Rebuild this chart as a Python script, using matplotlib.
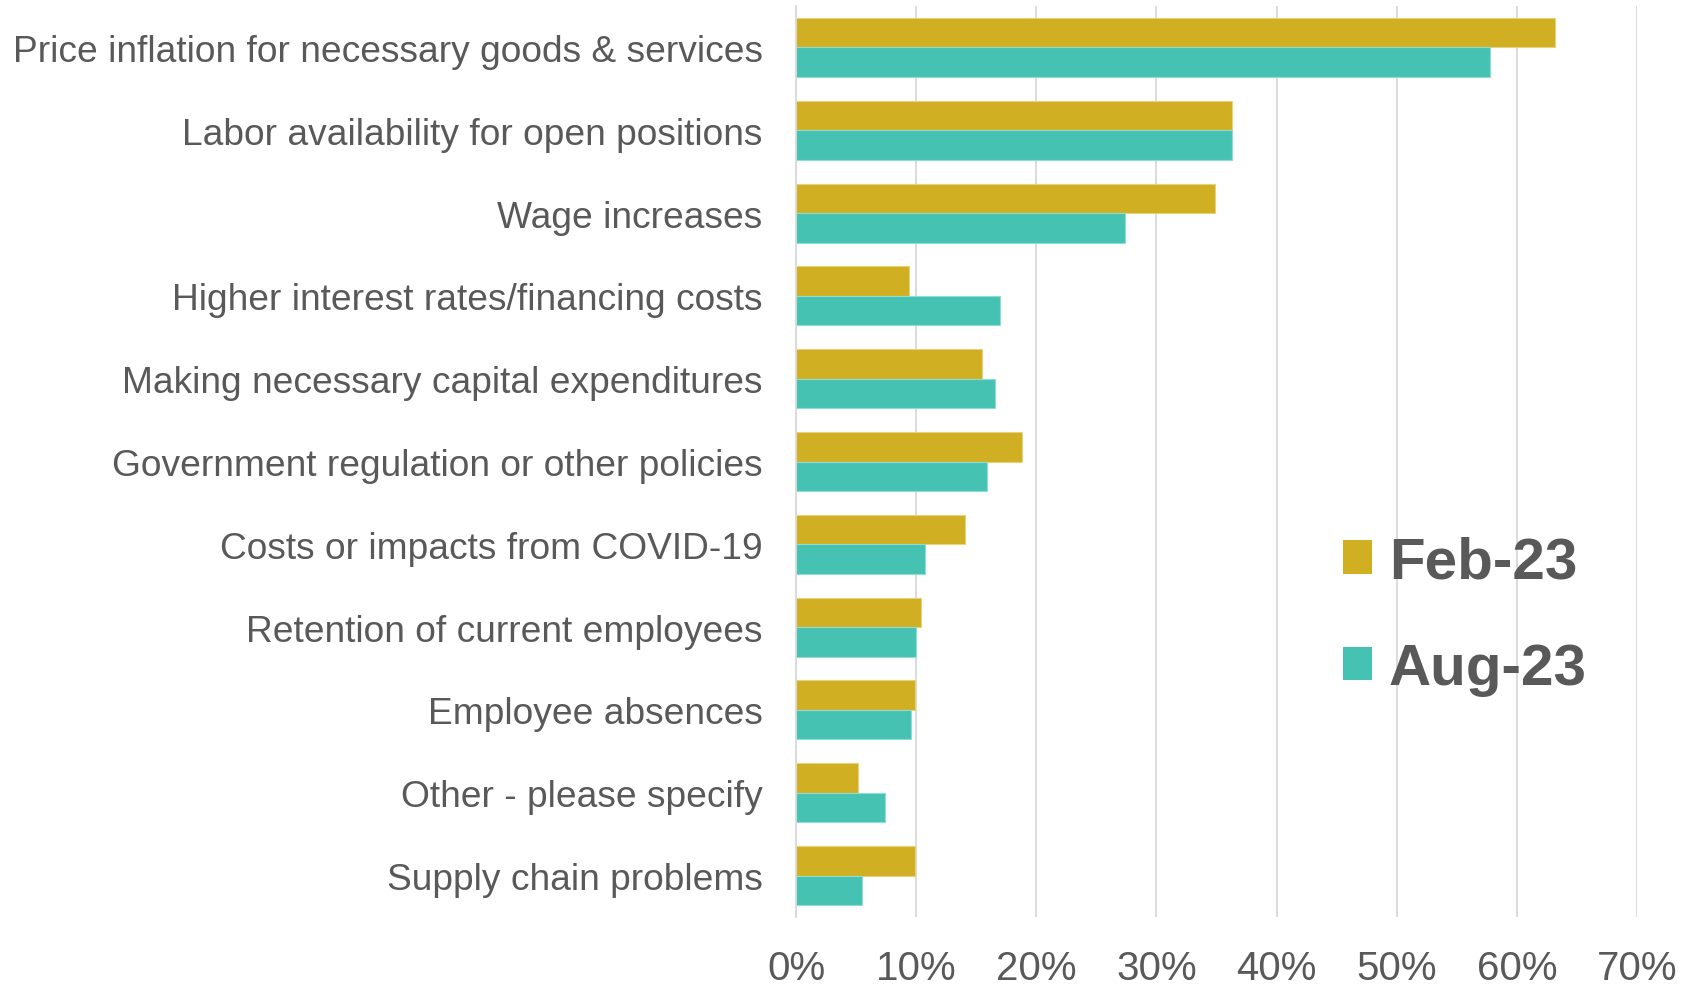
import matplotlib
matplotlib.use("Agg")
import matplotlib.pyplot as plt
import numpy as np
from matplotlib.patches import Patch

categories = [
    "Price inflation for necessary goods & services",
    "Labor availability for open positions",
    "Wage increases",
    "Higher interest rates/financing costs",
    "Making necessary capital expenditures",
    "Government regulation or other policies",
    "Costs or impacts from COVID-19",
    "Retention of current employees",
    "Employee absences",
    "Other - please specify",
    "Supply chain problems",
]
feb23 = [63.2, 36.3, 34.9, 9.4, 15.5, 18.8, 14.1, 10.4, 9.9, 5.2, 9.9]
aug23 = [57.8, 36.3, 27.4, 17.0, 16.6, 15.9, 10.7, 10.0, 9.6, 7.4, 5.5]
series_names = ["Feb-23", "Aug-23"]
xticks = [0, 10, 20, 30, 40, 50, 60, 70]

GOLD = "#D0AF22"
TEAL = "#46C2B3"
TEXT = "#595959"
GRID = "#D9D9D9"

plt.rcParams["font.family"] = ["Liberation Sans", "DejaVu Sans"]

fig = plt.figure(figsize=(16.83, 9.87), dpi=100)
ax = fig.add_axes([796 / 1683, 1 - 918 / 987, (1637 - 796) / 1683, (918 - 7) / 987])

y = np.arange(len(categories))
h = 0.356
ax.barh(y - h / 2, feb23, height=h, color=GOLD, edgecolor="#E6D27A", linewidth=0.8, zorder=2)
ax.barh(y + h / 2, aug23, height=h, color=TEAL, edgecolor="#8FDCD2", linewidth=0.8, zorder=2)

ax.set_xlim(0, 70)
ax.set_ylim(len(categories) - 0.5, -0.5)
ax.set_xticks(xticks)
ax.set_xticklabels([f"{t}%" for t in xticks])
ax.set_yticks(y)
ax.set_yticklabels(categories)

ax.tick_params(axis="x", length=0, pad=23, labelsize=29, labelcolor=TEXT)
ax.tick_params(axis="y", length=0, pad=24, labelsize=26.7, labelcolor=TEXT)

ax.grid(axis="x", color=GRID, linewidth=1.3, zorder=0)
ax.set_axisbelow(True)
for side in ["top", "right", "bottom"]:
    ax.spines[side].set_visible(False)
ax.spines["left"].set_color(GRID)
ax.spines["left"].set_linewidth(1.3)

handles = [Patch(facecolor=GOLD), Patch(facecolor=TEAL)]
leg = ax.legend(
    handles, series_names,
    loc="center left", bbox_to_anchor=((1320 - 796) / (1637 - 796), (918 - 617) / 911),
    frameon=False, handlelength=0.5, handleheight=0.5, handletextpad=0.28,
    labelspacing=0.9, borderaxespad=0,
    prop={"family": ["Liberation Sans", "DejaVu Sans"], "weight": "bold", "size": 42},
)
for t in leg.get_texts():
    t.set_color(TEXT)

fig.savefig("out.png", dpi=100, facecolor="white")
